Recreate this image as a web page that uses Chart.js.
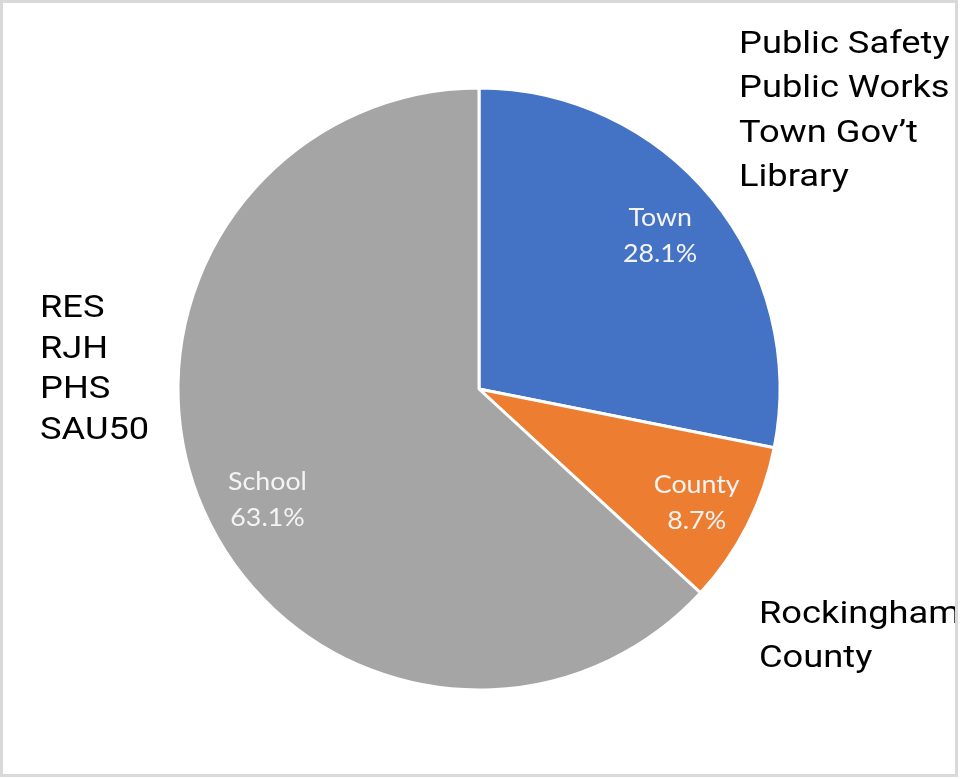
<!DOCTYPE html>
<html>
<head>
<meta charset="utf-8">
<script src="https://cdn.jsdelivr.net/npm/chart.js@4/dist/chart.umd.min.js"></script>
<style>
  html, body { margin: 0; padding: 0; background: #ffffff; }
  #wrap { position: relative; width: 961px; height: 779px; }
  canvas { display: block; }
</style>
</head>
<body>
<div id="wrap"><canvas id="c" width="961" height="779"></canvas></div>
<script>
// ---- data ----
const categories = ['Town', 'County', 'School'];
const shares = [28.1, 8.7, 63.1];
const sliceColors = ['#4472C4', '#ED7D31', '#A5A5A5'];

// descriptive notes next to the pie
const townNotes = ['Public Safety', 'Public Works', 'Town Gov\u2019t', 'Library'];
const schoolNotes = ['RES', 'RJH', 'PHS', 'SAU50'];
const countyNotes = ['Rockingham', 'County'];

// small label nudges (px) relative to the computed in-slice position
const labelNudge = [[-5, 0], [3, 5], [9, 14]];

function stretchedText(ctx, text, x, y, sx) {
  ctx.save();
  ctx.translate(x, y);
  ctx.scale(sx, 1);
  ctx.fillText(text, 0, 0);
  ctx.restore();
}

const drawPlugin = {
  id: 'drawExtras',
  beforeDraw(chart) {
    const ctx = chart.ctx;
    ctx.save();
    ctx.fillStyle = '#ffffff';
    ctx.fillRect(0, 0, chart.width, chart.height);
    ctx.restore();
  },
  afterDatasetsDraw(chart) {
    const ctx = chart.ctx;
    const meta = chart.getDatasetMeta(0);
    ctx.save();
    ctx.fillStyle = '#f4f4f4';
    ctx.font = '25px Lato, "Liberation Sans", sans-serif';
    ctx.textAlign = 'center';
    ctx.textBaseline = 'middle';
    meta.data.forEach((arc, i) => {
      const p = arc.getProps(['x', 'y', 'startAngle', 'endAngle', 'outerRadius'], true);
      const mid = (p.startAngle + p.endAngle) / 2;
      const r = p.outerRadius * 0.8;
      const cx = p.x + Math.cos(mid) * r + labelNudge[i][0];
      const cy = p.y + Math.sin(mid) * r + labelNudge[i][1];
      stretchedText(ctx, categories[i], cx, cy - 18, 1.07);
      stretchedText(ctx, shares[i].toFixed(1) + '%', cx, cy + 18, 1.07);
    });
    ctx.restore();

    ctx.save();
    ctx.beginPath();
    ctx.rect(3, 3, 952, 770);
    ctx.clip();
    ctx.fillStyle = '#000000';
    ctx.font = '31px Roboto, sans-serif';
    ctx.textAlign = 'left';
    ctx.textBaseline = 'alphabetic';
    const sx = 1.17;
    townNotes.forEach((t, i) => stretchedText(ctx, t, 739, 53 + i * 44.3, sx));
    schoolNotes.forEach((t, i) => stretchedText(ctx, t, 40, 317 + i * 40.7, sx));
    countyNotes.forEach((t, i) => stretchedText(ctx, t, 759, 623 + i * 44, sx));
    ctx.restore();

    ctx.save();
    ctx.strokeStyle = '#d9d9d9';
    ctx.lineWidth = 3;
    ctx.strokeRect(1.5, 1.5, 955, 774);
    ctx.restore();
  }
};

new Chart(document.getElementById('c'), {
  type: 'pie',
  data: {
    labels: categories,
    datasets: [{
      data: shares,
      backgroundColor: sliceColors,
      borderColor: '#ffffff',
      borderWidth: 3,
      radius: 301
    }]
  },
  options: {
    responsive: false,
    animation: false,
    events: [],
    layout: { padding: { left: 176, right: 179, top: 86, bottom: 87 } },
    plugins: {
      legend: { display: false },
      tooltip: { enabled: false },
      title: { display: false }
    }
  },
  plugins: [drawPlugin]
});
</script>
</body>
</html>
